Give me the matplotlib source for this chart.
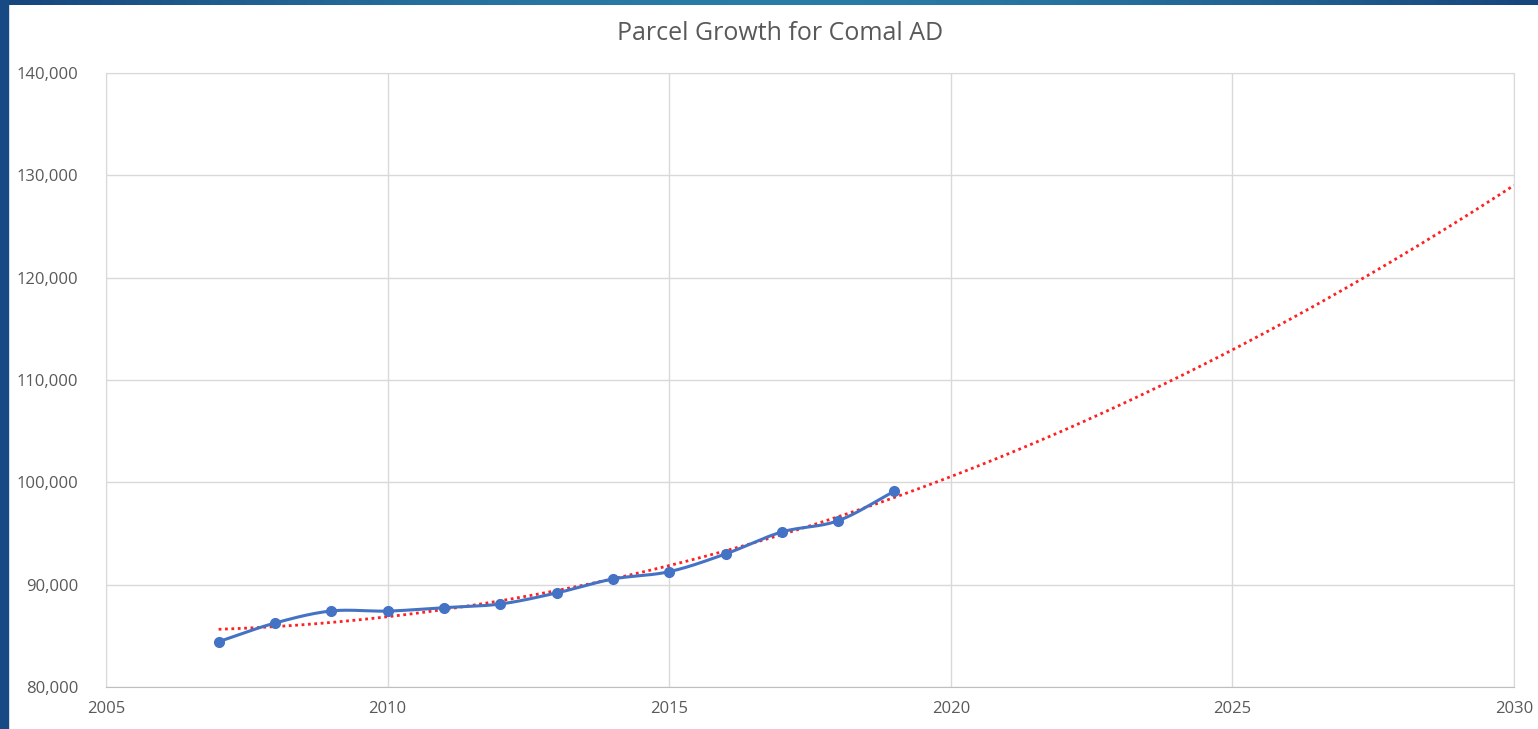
import matplotlib.pyplot as plt
import numpy as np
from matplotlib.patches import Rectangle
from matplotlib.ticker import FuncFormatter

# Parcel counts
years = [2007, 2008, 2009, 2010, 2011, 2012, 2013,
         2014, 2015, 2016, 2017, 2018, 2019]
parcels = [84430, 86250, 87430, 87420, 87750, 88110, 89190,
           90550, 91270, 93000, 95150, 96250, 99150]
trend_end = 2030
title = "Parcel Growth for Comal AD"
x_ticks = [2005, 2010, 2015, 2020, 2025, 2030]
y_ticks = [80000, 90000, 100000, 110000, 120000, 130000, 140000]


def smooth(x, y, n=20):
    # Catmull-Rom curve through the points, like Excel's smoothed line
    x = np.asarray(x, float)
    y = np.asarray(y, float)
    px = np.concatenate([[2 * x[0] - x[1]], x, [2 * x[-1] - x[-2]]])
    py = np.concatenate([[2 * y[0] - y[1]], y, [2 * y[-1] - y[-2]]])
    xs, ys = [], []
    t = np.linspace(0, 1, n, endpoint=False)
    for i in range(1, len(px) - 2):
        for p, out in ((px, xs), (py, ys)):
            p0, p1, p2, p3 = p[i - 1:i + 3]
            out.extend(0.5 * (2 * p1 + (-p0 + p2) * t
                              + (2 * p0 - 5 * p1 + 4 * p2 - p3) * t ** 2
                              + (-p0 + 3 * p1 - 3 * p2 + p3) * t ** 3))
    xs.append(x[-1])
    ys.append(y[-1])
    return xs, ys


plt.rcParams["font.family"] = ["Open Sans", "DejaVu Sans"]

fig = plt.figure(figsize=(15.38, 7.29), dpi=100)
ax = fig.add_axes([106 / 1538, 1 - 687 / 729, 1408 / 1538, 614 / 729])

# Blue slide frame on the top and left edges
grad = np.linspace(0, 1, 256)[None, :]
top = fig.add_axes([0, 1 - 5 / 729, 1, 5 / 729])
top.imshow(np.sin(grad * np.pi), aspect="auto",
           cmap=plt.matplotlib.colors.LinearSegmentedColormap.from_list(
               "frame", ["#17457d", "#2a7ba6"]))
top.axis("off")
fig.patches.append(Rectangle((0, 0), 8 / 1538, 1, transform=fig.transFigure,
                             color="#174a84", zorder=5))

# Quadratic trend line extended to 2030
coef = np.polyfit(years, parcels, 2)
tx = np.linspace(years[0], trend_end, 200)
ax.plot(tx, np.polyval(coef, tx), color="#ff2020", lw=2.0,
        linestyle=(0, (1, 1.3)), zorder=3)

# Actual parcel counts
sx, sy = smooth(years, parcels)
ax.plot(sx, sy, color="#4472c4", lw=2.2, zorder=4)
ax.plot(years, parcels, "o", color="#4472c4", ms=7, zorder=5)

ax.set_xlim(2005, 2030)
ax.set_ylim(80000, 140000)
ax.set_xticks(x_ticks)
ax.set_yticks(y_ticks)
ax.yaxis.set_major_formatter(FuncFormatter(lambda v, p: f"{v:,.0f}"))
ax.grid(True, color="#d9d9d9", lw=1.0)
ax.set_axisbelow(True)
for s in ax.spines.values():
    s.set_color("#d9d9d9")
ax.spines["bottom"].set_color("#bfbfbf")
ax.tick_params(length=0, labelsize=12, colors="#595959")
ax.tick_params(axis="y", pad=20)
ax.tick_params(axis="x", pad=10)

fig.text(0.507, 1 - 34 / 729, title, ha="center", va="center",
         fontsize=18, color="#595959")

fig.savefig("out.png", dpi=100)
